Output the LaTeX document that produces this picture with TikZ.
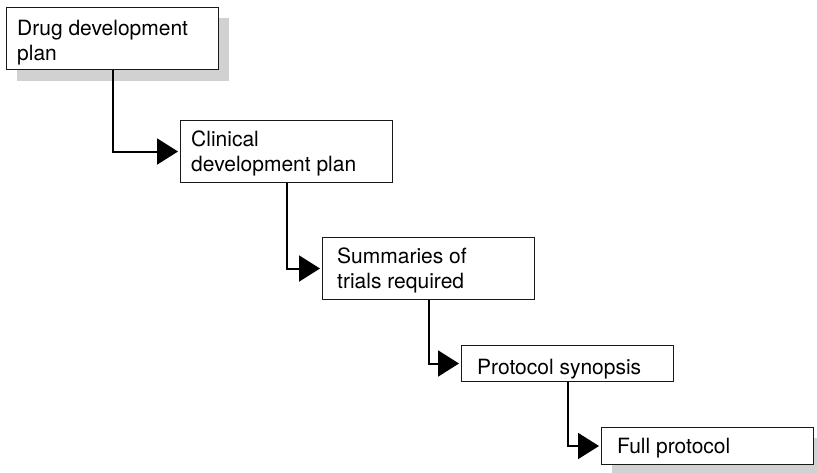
\documentclass[tikz,border=0pt]{standalone}
\usepackage{fontspec}
\setmainfont{TeX Gyre Heros}
\usetikzlibrary{arrows.meta}
\begin{document}
\begin{tikzpicture}[x=1pt,y=-1pt,
  stepbox/.style={draw=black!90, line width=1pt, fill=white, anchor=north west,
    minimum width=212pt, inner sep=0pt},
  tallbox/.style={stepbox, minimum height=62pt},
  flatbox/.style={stepbox, minimum height=37pt},
  shade/.style={fill=black!18, draw=none},
  lbl/.style={anchor=north west, inner sep=0pt, align=left,
    font=\fontsize{21}{25}\selectfont},
  flow/.style={line width=2pt, -{Triangle[length=21pt,width=26pt]}, shorten >=2pt}
]
\useasboundingbox (0,0) rectangle (817,472);
\clip (0,0) rectangle (817,472);

% drop shadows behind the first and last stages
\fill[shade] (17,18) rectangle (229,81);
\fill[shade] (612,438) rectangle (824,476);

% stage boxes
\node[tallbox] (b1) at (6,7) {};
\node[tallbox] (b2) at (180,120) {};
\node[tallbox] (b3) at (322,237) {};
\node[stepbox, minimum height=36pt] (b4) at (461,345) {};
\node[flatbox] (b5) at (601,427) {};

% stage labels
\node[lbl] (t1) at (17,17.5) {\strut Drug development\\plan};
\node[lbl] (t2) at (191,128.5) {\strut Clinical\\development plan};
\node[lbl] (t3) at (337,245.5) {\strut Summaries of\\trials required};
\node[lbl] (t4) at (477,356.5) {\strut Protocol synopsis};
\node[lbl] (t5) at (617,435.5) {\strut Full protocol};

% elbow connectors
\draw[flow] (b1.south) |- (b2.west);
\draw[flow] (b2.south) |- (b3.west);
\draw[flow] (b3.south) |- (b4.west);
\draw[flow] (b4.south) |- (b5.west);
\end{tikzpicture}
\end{document}
